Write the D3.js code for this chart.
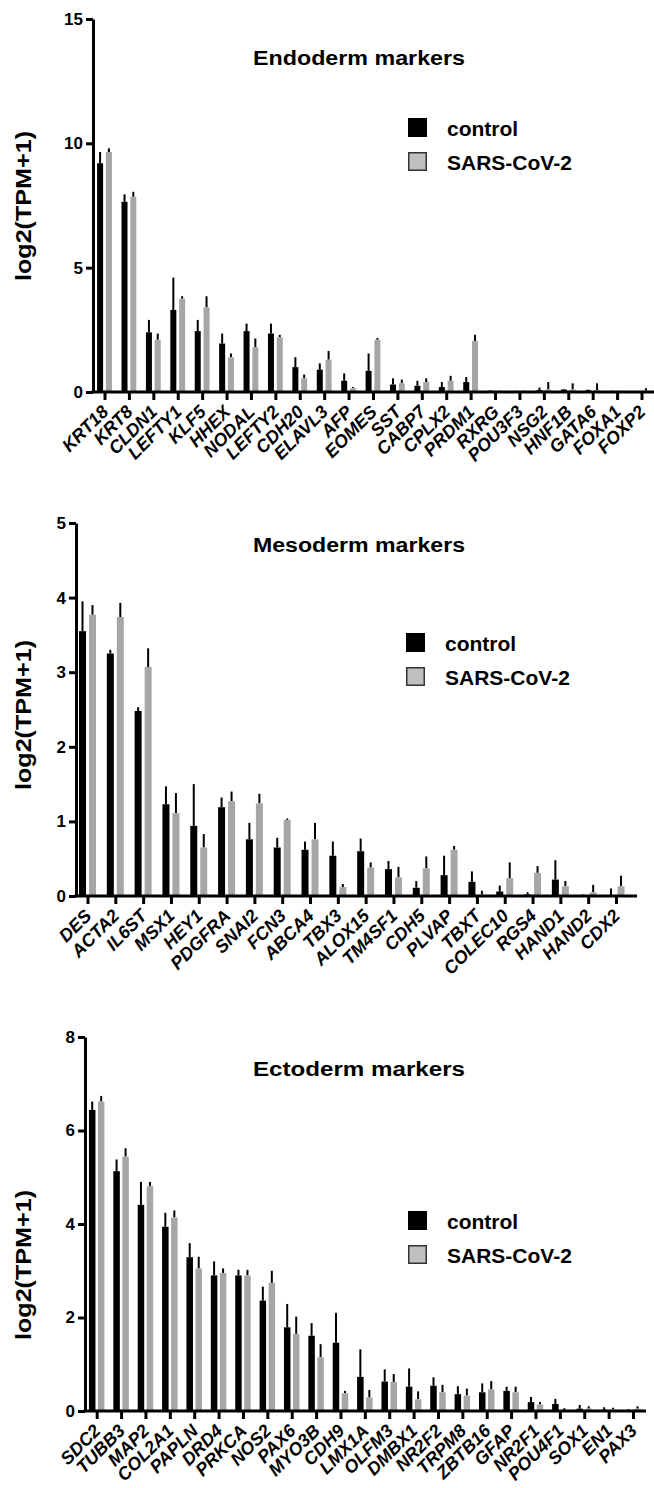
<!DOCTYPE html>
<html>
<head>
<meta charset="utf-8">
<script src="https://cdn.jsdelivr.net/npm/d3@7"></script>
<style>
body { margin: 0; background: #fff; }
svg text { font-family: "Liberation Sans", Arial, sans-serif; font-weight: bold; }
</style>
</head>
<body>
<div id="chart"></div>
<script>
// Données (moyenne et écart-type, log2(TPM+1))
const seriesNames = ["control", "SARS-CoV-2"];

const endoGenes = ["KRT18", "KRT8", "CLDN1", "LEFTY1", "KLF5", "HHEX", "NODAL", "LEFTY2", "CDH20", "ELAVL3", "AFP", "EOMES", "SST", "CABP7", "CPLX2", "PRDM1", "RXRG", "POU3F3", "NSG2", "HNF1B", "GATA6", "FOXA1", "FOXP2"];
const endoCtrl = [9.2, 7.65, 2.4, 3.3, 2.45, 1.95, 2.45, 2.35, 1.0, 0.9, 0.45, 0.85, 0.3, 0.25, 0.2, 0.4, 0.05, 0.03, 0.08, 0.1, 0.07, 0.03, 0.02];
const endoCtrlSd = [0.45, 0.3, 0.5, 1.3, 0.45, 0.4, 0.3, 0.4, 0.4, 0.25, 0.3, 0.7, 0.25, 0.2, 0.2, 0.2, 0.02, 0.02, 0.1, 0.02, 0.03, 0.02, 0.01];
const endoSars = [9.65, 7.85, 2.1, 3.75, 3.4, 1.4, 1.8, 2.2, 0.55, 1.3, 0.15, 2.1, 0.35, 0.4, 0.45, 2.05, 0.03, 0.03, 0.1, 0.1, 0.08, 0.03, 0.05];
const endoSarsSd = [0.15, 0.2, 0.25, 0.1, 0.45, 0.15, 0.35, 0.1, 0.15, 0.35, 0.05, 0.07, 0.15, 0.15, 0.2, 0.25, 0.02, 0.02, 0.3, 0.25, 0.27, 0.02, 0.1];
const endoTicks = [0, 5, 10, 15];

const mesoGenes = ["DES", "ACTA2", "IL6ST", "MSX1", "HEY1", "PDGFRA", "SNAI2", "FCN3", "ABCA4", "TBX3", "ALOX15", "TM4SF1", "CDH5", "PLVAP", "TBXT", "COLEC10", "RGS4", "HAND1", "HAND2", "CDX2"];
const mesoCtrl = [3.55, 3.25, 2.48, 1.23, 0.94, 1.19, 0.76, 0.65, 0.62, 0.54, 0.6, 0.36, 0.11, 0.28, 0.19, 0.06, 0.02, 0.22, 0.01, 0.01];
const mesoCtrlSd = [0.4, 0.05, 0.05, 0.24, 0.56, 0.13, 0.22, 0.13, 0.11, 0.19, 0.17, 0.11, 0.09, 0.26, 0.14, 0.08, 0.03, 0.26, 0.01, 0.09];
const mesoSars = [3.77, 3.74, 3.07, 1.11, 0.65, 1.27, 1.24, 1.02, 0.76, 0.12, 0.38, 0.25, 0.37, 0.62, 0.02, 0.24, 0.31, 0.13, 0.05, 0.13];
const mesoSarsSd = [0.13, 0.19, 0.25, 0.27, 0.18, 0.13, 0.13, 0.02, 0.22, 0.04, 0.07, 0.14, 0.16, 0.05, 0.05, 0.21, 0.09, 0.07, 0.1, 0.14];
const mesoTicks = [0, 1, 2, 3, 4, 5];

const ectoGenes = ["SDC2", "TUBB3", "MAP2", "COL2A1", "PAPLN", "DRD4", "PRKCA", "NOS2", "PAX6", "MYO3B", "CDH9", "LMX1A", "OLFM3", "DMBX1", "NR2F2", "TRPM8", "ZBTB16", "GFAP", "NR2F1", "POU4F1", "SOX1", "EN1", "PAX3"];
const ectoCtrl = [6.44, 5.13, 4.41, 3.94, 3.29, 2.9, 2.9, 2.36, 1.79, 1.61, 1.46, 0.73, 0.63, 0.52, 0.54, 0.36, 0.4, 0.43, 0.19, 0.15, 0.05, 0.03, 0.02];
const ectoCtrlSd = [0.18, 0.25, 0.49, 0.3, 0.3, 0.3, 0.12, 0.3, 0.5, 0.27, 0.64, 0.59, 0.26, 0.39, 0.18, 0.17, 0.19, 0.09, 0.11, 0.11, 0.08, 0.05, 0.02];
const ectoSars = [6.62, 5.44, 4.81, 4.14, 3.05, 2.95, 2.9, 2.74, 1.65, 1.15, 0.38, 0.29, 0.62, 0.25, 0.4, 0.33, 0.46, 0.4, 0.14, 0.02, 0.05, 0.03, 0.05];
const ectoSarsSd = [0.12, 0.18, 0.09, 0.15, 0.25, 0.1, 0.12, 0.26, 0.37, 0.28, 0.05, 0.16, 0.17, 0.17, 0.16, 0.15, 0.18, 0.12, 0.05, 0.04, 0.05, 0.04, 0.05];
const ectoTicks = [0, 2, 4, 6, 8];

// Mise en page de chaque panneau
const panneaux = [
    {titre: "Endoderm markers", genes: endoGenes, ctrl: endoCtrl, ctrlSd: endoCtrlSd, sars: endoSars, sarsSd: endoSarsSd, ticks: endoTicks,
     axeX: 93, finX: 654, premier: 104.5, dernier: 641.5, bas: 392, haut: 19, larg: 6, ecart: 4.4, titreY: 65, legX: 408, legY: 118, labelY: 206},
    {titre: "Mesoderm markers", genes: mesoGenes, ctrl: mesoCtrl, ctrlSd: mesoCtrlSd, sars: mesoSars, sarsSd: mesoSarsSd, ticks: mesoTicks,
     axeX: 76, finX: 637, premier: 87.5, dernier: 616, bas: 896, haut: 523, larg: 7, ecart: 5, titreY: 552, legX: 406, legY: 633, labelY: 715},
    {titre: "Ectoderm markers", genes: ectoGenes, ctrl: ectoCtrl, ctrlSd: ectoCtrlSd, sars: ectoSars, sarsSd: ectoSarsSd, ticks: ectoTicks,
     axeX: 85, finX: 646, premier: 96.7, dernier: 633, bas: 1411, haut: 1037, larg: 6.5, ecart: 4.5, titreY: 1076, legX: 408, legY: 1211, labelY: 1265}
];

const gris = "#a6a6a6";

const svg = d3.select("#chart").append("svg")
    .attr("width", 654)
    .attr("height", 1488);

panneaux.forEach(p => {
    const g = svg.append("g");

    const x = d3.scalePoint()
        .domain(p.genes)
        .range([p.premier, p.dernier]);

    const y = d3.scaleLinear()
        .domain([0, d3.max(p.ticks)])
        .range([p.bas, p.haut]);

    // Barres des deux séries
    const series = [
        {vals: p.ctrl, sd: p.ctrlSd, couleur: "#000", dx: -p.ecart},
        {vals: p.sars, sd: p.sarsSd, couleur: gris, dx: p.ecart}
    ];

    series.forEach(s => {
        const donnees = p.genes.map((gene, i) => ({gene, v: s.vals[i], sd: s.sd[i]}));

        // Barres d'erreur (au-dessus seulement)
        g.append("g")
            .selectAll("line")
            .data(donnees)
            .enter()
            .append("line")
            .attr("x1", d => x(d.gene) + s.dx)
            .attr("x2", d => x(d.gene) + s.dx)
            .attr("y1", d => y(d.v))
            .attr("y2", d => y(d.v + d.sd))
            .attr("stroke", "#000")
            .attr("stroke-width", 2);

        g.append("g")
            .selectAll("rect")
            .data(donnees)
            .enter()
            .append("rect")
            .attr("x", d => x(d.gene) + s.dx - p.larg / 2)
            .attr("width", p.larg)
            .attr("y", d => y(d.v))
            .attr("height", d => y(0) - y(d.v))
            .attr("fill", s.couleur);
    });

    // Axe Y
    const axeY = g.append("g")
        .attr("transform", `translate(${p.axeX},0)`)
        .call(d3.axisLeft(y).tickValues(p.ticks).tickSize(7).tickSizeOuter(0).tickPadding(3).tickFormat(d3.format("d")));
    axeY.select(".domain").attr("stroke-width", 3);
    axeY.selectAll(".tick line").attr("stroke-width", 3);
    axeY.selectAll(".tick text").attr("font-size", 17).attr("fill", "#000");

    // Axe X
    const axeX = g.append("g")
        .attr("transform", `translate(0,${p.bas})`)
        .call(d3.axisBottom(x).tickSize(8).tickSizeOuter(0).tickFormat(""));
    axeX.select(".domain").remove();
    axeX.selectAll(".tick line").attr("stroke-width", 3);
    g.append("line")
        .attr("x1", p.axeX - 1.5)
        .attr("x2", p.finX)
        .attr("y1", p.bas)
        .attr("y2", p.bas)
        .attr("stroke", "#000")
        .attr("stroke-width", 3);

    // Noms des gènes inclinés
    g.append("g")
        .selectAll("text")
        .data(p.genes)
        .enter()
        .append("text")
        .attr("transform", d => `translate(${x(d) + 5},${p.bas + 21}) rotate(-45)`)
        .attr("text-anchor", "end")
        .attr("font-size", 18)
        .attr("font-style", "italic")
        .text(d => d);

    // Titre
    g.append("text")
        .attr("x", 359)
        .attr("y", p.titreY)
        .attr("text-anchor", "middle")
        .attr("font-size", 20)
        .attr("textLength", 212)
        .attr("lengthAdjust", "spacingAndGlyphs")
        .text(p.titre);

    // Titre de l'axe Y
    g.append("text")
        .attr("transform", `translate(31,${p.labelY}) rotate(-90)`)
        .attr("text-anchor", "middle")
        .attr("font-size", 22)
        .attr("textLength", 150)
        .attr("lengthAdjust", "spacingAndGlyphs")
        .text("log2(TPM+1)");

    // Légende
    const leg = g.append("g").attr("transform", `translate(${p.legX},${p.legY})`);
    seriesNames.forEach((nom, i) => {
        leg.append("rect")
            .attr("x", 0.75)
            .attr("y", i * 34 + 0.75)
            .attr("width", 17.5)
            .attr("height", 17.5)
            .attr("fill", i === 0 ? "#000" : "#c0c0c0")
            .attr("stroke", i === 0 ? "#000" : "#333")
            .attr("stroke-width", 1.5);
        leg.append("text")
            .attr("x", 39)
            .attr("y", i * 34 + 18)
            .attr("font-size", 21)
            .text(nom);
    });
});
</script>
</body>
</html>
